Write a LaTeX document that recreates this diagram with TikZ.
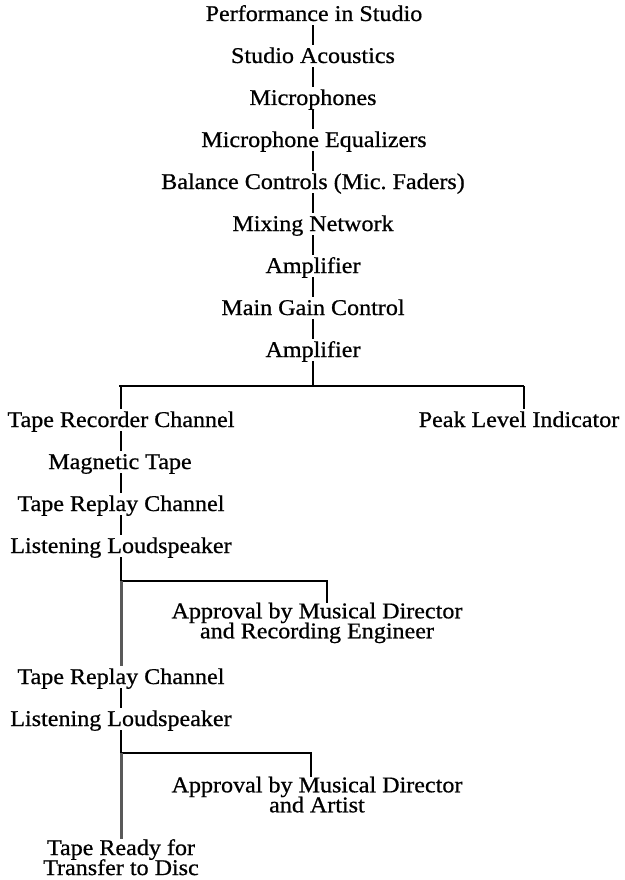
\documentclass[tikz,border=0pt]{standalone}
\usepackage{fontspec}
\setmainfont[FakeStretch=1.07,FakeBold=0.7]{Liberation Serif}
\newcommand\diagfont{\fontsize{22.5}{20}\selectfont\lineskiplimit=-30pt\relax}
\begin{document}
\begin{tikzpicture}[x=1pt,y=-1pt,
  txt/.style={font=\diagfont, inner xsep=0pt, inner ysep=0pt, text height=18pt, text depth=4pt, anchor=base},
  mtxt/.style={font=\diagfont, inner xsep=0pt, inner ysep=0pt, align=center, anchor=north},
  conn/.style={line width=1.3pt, black},
  trunk/.style={line width=3pt, black!65}]
\useasboundingbox (0,0) rectangle (624,880);
\coordinate (axis) at (313,0);
\coordinate (lax) at (121,0);
\coordinate (rax) at (524,0);
% main column
\node[txt] (perf) at (314,21) {Performance in Studio};
\node[txt] (stud) at (313,63) {Studio Acoustics};
\node[txt] (mics) at (313,105) {Microphones};
\node[txt] (eq) at (314,147) {Microphone Equalizers};
\node[txt] (bal) at (313,189) {Balance Controls (Mic.\ Faders)};
\node[txt] (mix) at (313,231) {Mixing Network};
\node[txt] (amp1) at (313,273) {Amplifier};
\node[txt] (gain) at (313,315) {Main Gain Control};
\node[txt] (amp2) at (313,357) {Amplifier};
% branches
\node[txt] (trc) at (121,427) {Tape Recorder Channel};
\node[txt] (peak) at (519,427) {Peak Level Indicator};
\node[txt] (mag) at (120,469) {Magnetic Tape};
\node[txt] (rep1) at (121,511) {Tape Replay Channel};
\node[txt] (lis1) at (121,553) {Listening Loudspeaker};
\node[mtxt] (app1) at (317,602.5) {Approval by Musical Director\\and Recording Engineer};
\node[txt] (rep2) at (121,684) {Tape Replay Channel};
\node[txt] (lis2) at (121,726) {Listening Loudspeaker};
\node[mtxt] (app2) at (317,776.5) {Approval by Musical Director\\and Artist};
\node[mtxt] (ready) at (121,839) {Tape Ready for\\Transfer to Disc};
% junction coordinates
\coordinate (j0) at (313,386);
\coordinate (j0l) at (119,386);
\coordinate (j0r) at (524,386);
\coordinate (j1) at (121,581);
\coordinate (j1r) at (327,581);
\coordinate (j2) at (121,753);
\coordinate (j2r) at (311,753);
% main connectors
\foreach \a/\b in {perf/stud, stud/mics, mics/eq, eq/bal, bal/mix, mix/amp1, amp1/gain, gain/amp2}
  \draw[conn] (\a.south -| axis) -- (\b.north -| axis);
\draw[conn] (amp2.south -| axis) -- (j0);
\draw[conn] (j0l) -- (j0r);
\draw[conn] (j0l -| lax) -- (trc.north -| lax);
\draw[conn] (j0r) -- (peak.north -| rax);
\foreach \a/\b in {trc/mag, mag/rep1, rep1/lis1, rep2/lis2}
  \draw[conn] (\a.south -| lax) -- (\b.north -| lax);
% first approval branch
\draw[conn] (lis1.south -| lax) -- (j1);
\draw[conn] (j1) -- (j1r) -- (app1.north -| j1r);
\draw[trunk] (j1) -- (rep2.north -| lax);
% second approval branch
\draw[conn] (lis2.south -| lax) -- (j2);
\draw[conn] (j2) -- (j2r) -- (app2.north -| j2r);
\draw[trunk] (j2) -- (ready.north -| lax);
\end{tikzpicture}
\end{document}
